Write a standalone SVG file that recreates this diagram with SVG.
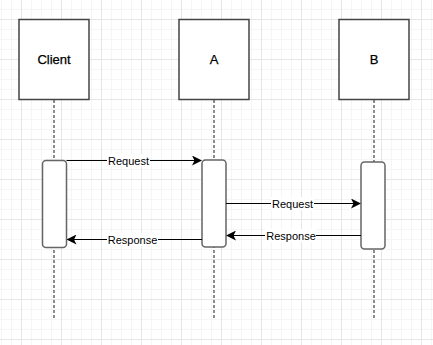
<svg xmlns="http://www.w3.org/2000/svg" width="433" height="345" viewBox="0 0 433 345">
<defs>
<pattern id="minor" width="10" height="10" patternUnits="userSpaceOnUse" x="1" y="9">
<path d="M 0.5 0 V 10 M 0 0.5 H 10" fill="none" stroke="#f5f5f5" stroke-width="1"/>
</pattern>
<pattern id="major" width="40" height="40" patternUnits="userSpaceOnUse" x="21" y="19">
<path d="M 0.5 0 V 40 M 0 0.5 H 40" fill="none" stroke="#e6e6e6" stroke-width="1"/>
</pattern>
<marker id="arr" viewBox="0 0 10 10" refX="9" refY="5" markerWidth="10" markerHeight="10" markerUnits="userSpaceOnUse" orient="auto">
<path d="M 0 0 L 10 5 L 0 10 L 2.5 5 Z" fill="#000"/>
</marker>
</defs>
<style>
.box{fill:#fff;stroke:#444;stroke-width:1.5}
.act{fill:#fff;stroke:#666;stroke-width:1.5}
.life{stroke:#666;stroke-width:1.5;stroke-dasharray:3 2;fill:none}
.t{font-family:"Liberation Sans",Arial,sans-serif;font-size:13px;fill:#000;text-anchor:middle;stroke:#000;stroke-width:0.25}
.lbl{font-family:"Liberation Sans",Arial,sans-serif;font-size:11px;fill:#000;text-anchor:middle}
.msg{stroke:#000;stroke-width:1;fill:none;marker-end:url(#arr)}
</style>
<rect width="433" height="345" fill="#fff"/>
<rect width="433" height="345" fill="url(#minor)"/>
<rect width="433" height="345" fill="url(#major)"/>

<g id="lifelines">
<line class="life" x1="54" y1="100" x2="54" y2="320"/>
<line class="life" x1="214" y1="100" x2="214" y2="320"/>
<line class="life" x1="374" y1="100" x2="374" y2="320"/>
</g>

<g id="client">
<rect class="box" x="19" y="19.5" width="70" height="80"/>
<text class="t" x="54" y="64">Client</text>
</g>
<g id="a">
<rect class="box" x="179" y="19.5" width="70" height="80"/>
<text class="t" x="214" y="64">A</text>
</g>
<g id="b">
<rect class="box" x="339" y="19.5" width="70" height="80"/>
<text class="t" x="374" y="64">B</text>
</g>

<g id="client-activation">
<rect class="act" x="42.5" y="160.5" width="24" height="87" rx="3.5" stroke="#222"/>
</g>
<g id="a-activation">
<rect class="act" x="202" y="160" width="24" height="87" rx="3.5"/>
</g>
<g id="b-activation">
<rect class="act" x="361" y="162" width="24" height="87" rx="3.5"/>
</g>

<g id="connectors">
<line class="msg" x1="66.5" y1="160.5" x2="201" y2="160.5"/>
<line class="msg" x1="202" y1="239.5" x2="67.5" y2="239.5"/>
<line class="msg" x1="226" y1="203.5" x2="360" y2="203.5"/>
<line class="msg" x1="361" y1="235.5" x2="227" y2="235.5"/>
<g>
<rect x="107" y="154" width="43" height="13" fill="#fff"/>
<text class="lbl" x="128.5" y="164.5">Request</text>
<rect x="107" y="233" width="51" height="13" fill="#fff"/>
<text class="lbl" x="132.5" y="243.5">Response</text>
<rect x="271" y="197" width="43" height="13" fill="#fff"/>
<text class="lbl" x="292.5" y="207.5">Request</text>
<rect x="265" y="229" width="51" height="13" fill="#fff"/>
<text class="lbl" x="291" y="239.5">Response</text>
</g>
</g>
</svg>
